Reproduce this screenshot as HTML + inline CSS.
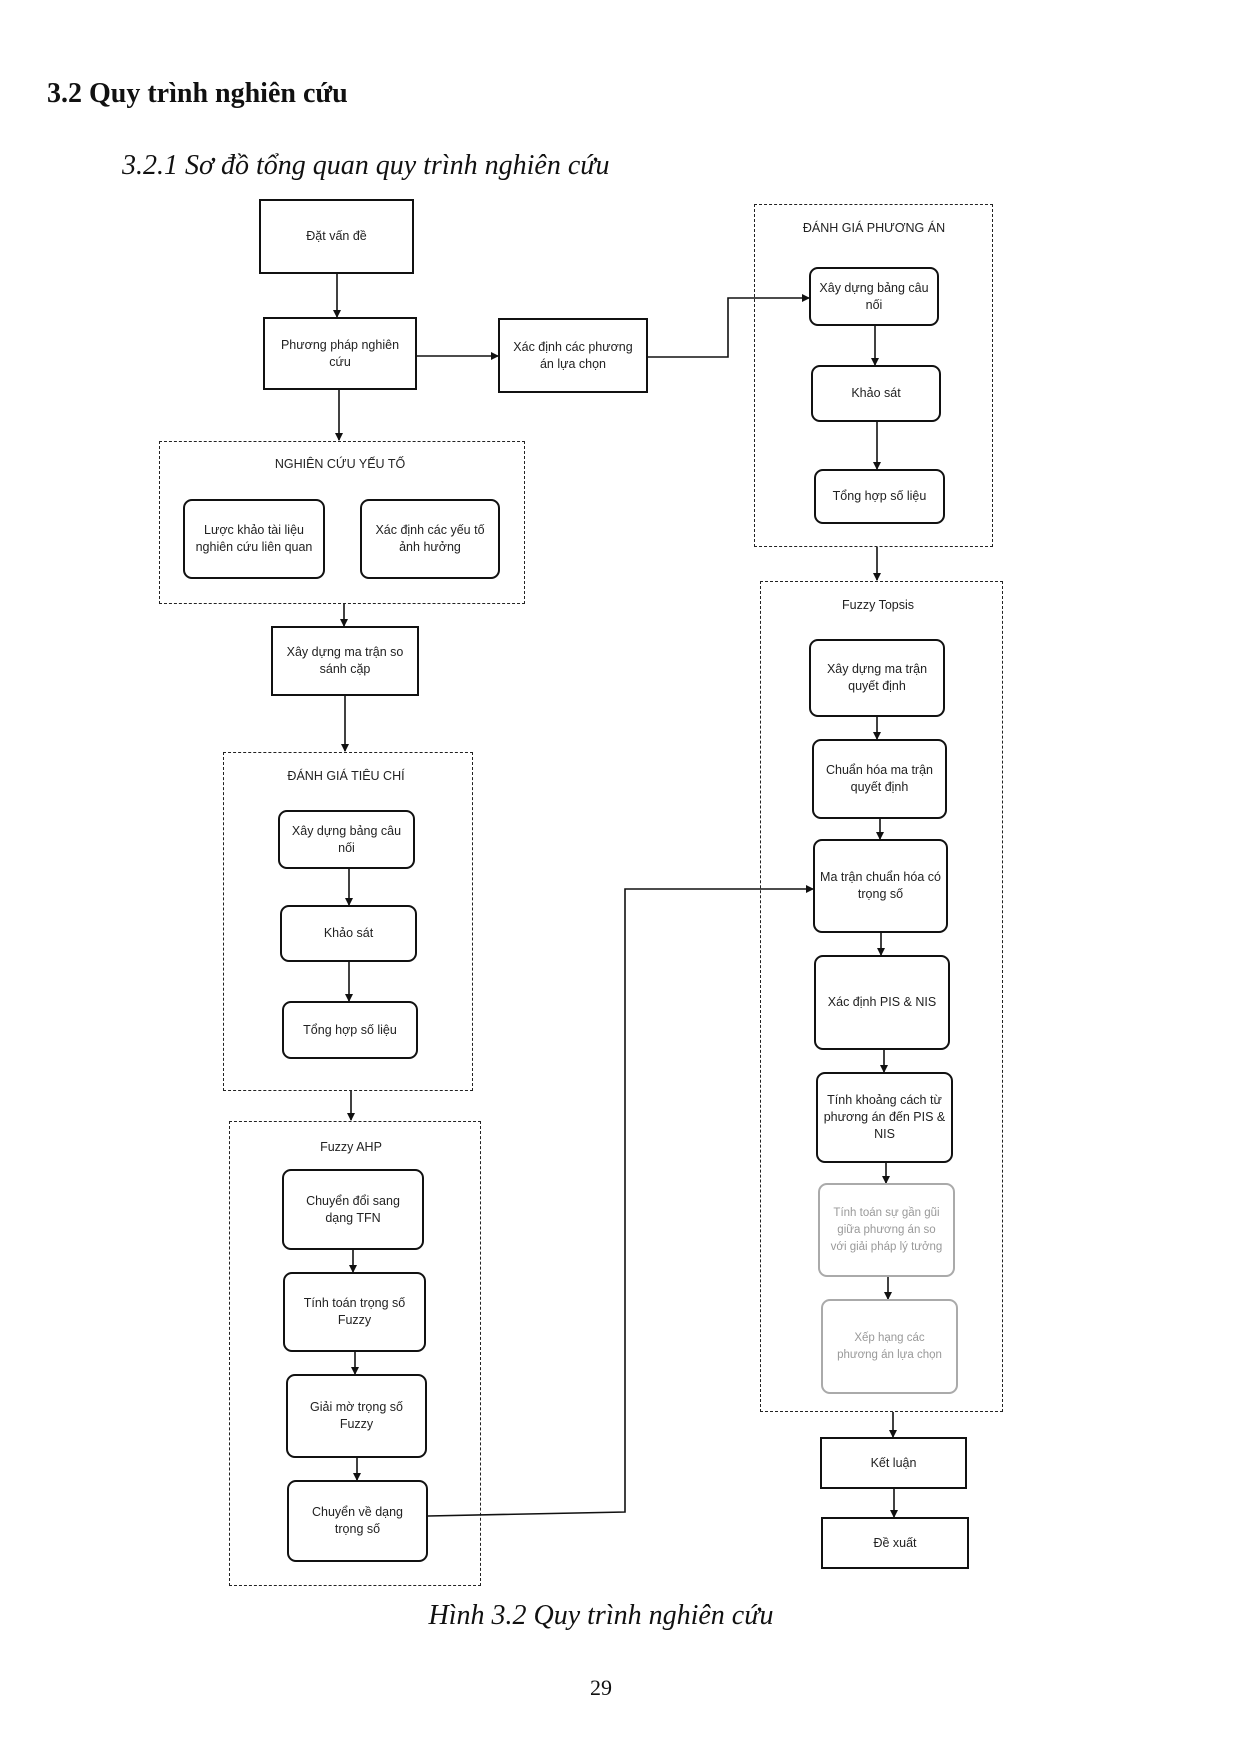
<!DOCTYPE html>
<html><head><meta charset="utf-8">
<style>
body{margin:0;background:#fff}
#p{position:relative;width:1240px;height:1754px;background:#fff;overflow:hidden;font-family:"Liberation Sans",sans-serif}
.b{position:absolute;box-sizing:border-box;border:2px solid #111;display:flex;align-items:center;justify-content:center;text-align:center;font-size:12.5px;line-height:17px;color:#222;background:#fff;padding:0 3px}
.r{border-radius:9px}
.f{border-color:#aaa;color:#999;border-style:solid}
.d{position:absolute;box-sizing:border-box;border:1.5px dashed #222}
.l{position:absolute;font-size:12.5px;color:#222;transform:translateX(-50%);white-space:nowrap}
.t{position:absolute;font-family:"Liberation Serif",serif;color:#111}
</style></head><body><div id="p">
<div class="t" style="left:47px;top:78px;font-size:28px;font-weight:bold">3.2 Quy trình nghiên cứu</div>
<div class="t" style="left:122px;top:150px;font-size:28px;font-style:italic">3.2.1 Sơ đồ tổng quan quy trình nghiên cứu</div>

<div class="d" style="left:754px;top:204px;width:239px;height:343px"></div>
<div class="d" style="left:760px;top:581px;width:243px;height:831px"></div>
<div class="d" style="left:159px;top:441px;width:366px;height:163px"></div>
<div class="d" style="left:223px;top:752px;width:250px;height:339px"></div>
<div class="d" style="left:229px;top:1121px;width:252px;height:465px"></div>

<div class="l" style="left:874px;top:221px">ĐÁNH GIÁ PHƯƠNG ÁN</div>
<div class="l" style="left:878px;top:598px">Fuzzy Topsis</div>
<div class="l" style="left:340px;top:457px">NGHIÊN CỨU YẾU TỐ</div>
<div class="l" style="left:346px;top:769px">ĐÁNH GIÁ TIÊU CHÍ</div>
<div class="l" style="left:351px;top:1140px">Fuzzy AHP</div>

<svg width="1240" height="1754" style="position:absolute;left:0;top:0">
<defs><marker id="a" markerWidth="8" markerHeight="8" refX="7" refY="4" orient="auto" markerUnits="userSpaceOnUse"><path d="M0,0 L8,4 L0,8z" fill="#111"/></marker></defs>
<g stroke="#111" stroke-width="1.6" fill="none" marker-end="url(#a)">
<line x1="337" y1="274" x2="337" y2="317"/>
<line x1="417" y1="356" x2="498" y2="356"/>
<polyline points="648,357 728,357 728,298 809,298"/>
<line x1="339" y1="390" x2="339" y2="440"/>
<line x1="344" y1="604" x2="344" y2="626"/>
<line x1="345" y1="696" x2="345" y2="751"/>
<line x1="349" y1="869" x2="349" y2="905"/>
<line x1="349" y1="962" x2="349" y2="1001"/>
<line x1="351" y1="1091" x2="351" y2="1120"/>
<line x1="353" y1="1250" x2="353" y2="1272"/>
<line x1="355" y1="1352" x2="355" y2="1374"/>
<line x1="357" y1="1458" x2="357" y2="1480"/>
<polyline points="428,1516 625,1512 625,889 813,889"/>
<line x1="875" y1="326" x2="875" y2="365"/>
<line x1="877" y1="422" x2="877" y2="469"/>
<line x1="877" y1="547" x2="877" y2="580"/>
<line x1="877" y1="717" x2="877" y2="739"/>
<line x1="880" y1="819" x2="880" y2="839"/>
<line x1="881" y1="933" x2="881" y2="955"/>
<line x1="884" y1="1050" x2="884" y2="1072"/>
<line x1="886" y1="1163" x2="886" y2="1183"/>
<line x1="888" y1="1277" x2="888" y2="1299"/>
<line x1="893" y1="1412" x2="893" y2="1437"/>
<line x1="894" y1="1489" x2="894" y2="1517"/>
</g></svg>

<div class="b" style="left:259px;top:199px;width:155px;height:75px">Đặt vấn đề</div>
<div class="b" style="left:263px;top:317px;width:154px;height:73px">Phương pháp nghiên<br>cứu</div>
<div class="b" style="left:498px;top:318px;width:150px;height:75px">Xác định các phương<br>án lựa chọn</div>

<div class="b r" style="left:809px;top:267px;width:130px;height:59px">Xây dựng bảng câu<br>nối</div>
<div class="b r" style="left:811px;top:365px;width:130px;height:57px">Khảo sát</div>
<div class="b r" style="left:814px;top:469px;width:131px;height:55px">Tổng hợp số liệu</div>

<div class="b r" style="left:809px;top:639px;width:136px;height:78px">Xây dựng ma trận<br>quyết định</div>
<div class="b r" style="left:812px;top:739px;width:135px;height:80px">Chuẩn hóa ma trận<br>quyết định</div>
<div class="b r" style="left:813px;top:839px;width:135px;height:94px">Ma trận chuẩn hóa có<br>trọng số</div>
<div class="b r" style="left:814px;top:955px;width:136px;height:95px">Xác định PIS &amp; NIS</div>
<div class="b r" style="left:816px;top:1072px;width:137px;height:91px">Tính khoảng cách từ<br>phương án đến PIS &amp;<br>NIS</div>
<div class="b r f" style="left:818px;top:1183px;width:137px;height:94px;font-size:11.5px">Tính toán sự gần gũi<br>giữa phương án so<br>với giải pháp lý tưởng</div>
<div class="b r f" style="left:821px;top:1299px;width:137px;height:95px;font-size:11.5px">Xếp hạng các<br>phương án lựa chọn</div>
<div class="b" style="left:820px;top:1437px;width:147px;height:52px">Kết luận</div>
<div class="b" style="left:821px;top:1517px;width:148px;height:52px">Đề xuất</div>

<div class="b r" style="left:183px;top:499px;width:142px;height:80px">Lược khảo tài liệu<br>nghiên cứu liên quan</div>
<div class="b r" style="left:360px;top:499px;width:140px;height:80px">Xác định các yếu tố<br>ảnh hưởng</div>
<div class="b" style="left:271px;top:626px;width:148px;height:70px">Xây dựng ma trận so<br>sánh cặp</div>

<div class="b r" style="left:278px;top:810px;width:137px;height:59px">Xây dựng bảng câu<br>nối</div>
<div class="b r" style="left:280px;top:905px;width:137px;height:57px">Khảo sát</div>
<div class="b r" style="left:282px;top:1001px;width:136px;height:58px">Tổng hợp số liệu</div>

<div class="b r" style="left:282px;top:1169px;width:142px;height:81px">Chuyển đổi sang<br>dạng TFN</div>
<div class="b r" style="left:283px;top:1272px;width:143px;height:80px">Tính toán trọng số<br>Fuzzy</div>
<div class="b r" style="left:286px;top:1374px;width:141px;height:84px">Giải mờ trọng số<br>Fuzzy</div>
<div class="b r" style="left:287px;top:1480px;width:141px;height:82px">Chuyển về dạng<br>trọng số</div>

<div class="t" style="left:601px;top:1600px;transform:translateX(-50%);font-size:28px;font-style:italic;white-space:nowrap">Hình 3.2 Quy trình nghiên cứu</div>
<div class="t" style="left:601px;top:1675px;transform:translateX(-50%);font-size:22px">29</div>
</div></body></html>
